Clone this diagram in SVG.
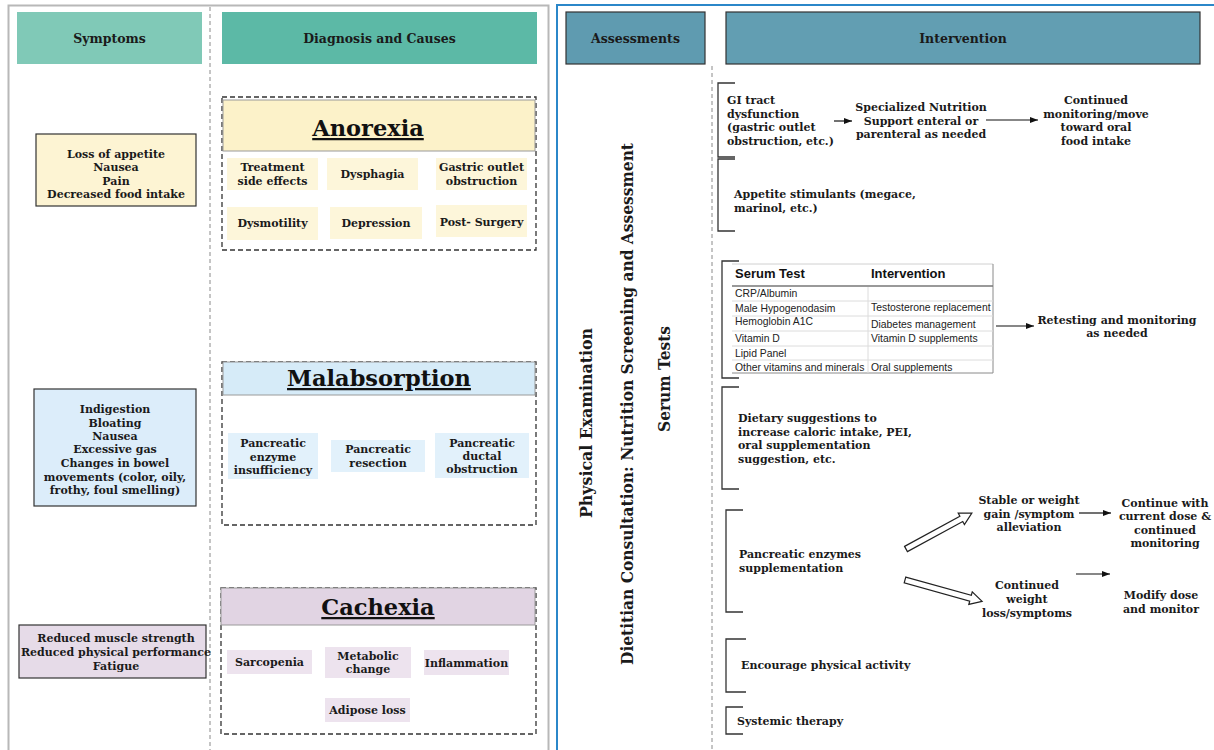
<svg xmlns="http://www.w3.org/2000/svg" width="1214" height="750" viewBox="0 0 1214 750">
<defs>
<marker id="ah" markerUnits="userSpaceOnUse" markerWidth="9" markerHeight="7" refX="8" refY="3.5" orient="auto">
<path d="M0,0.5 L8,3.5 L0,6.5 z" fill="#111"/>
</marker>
<style>
.t{font-family:"DejaVu Serif","Liberation Serif",serif;font-weight:bold;font-size:11px;fill:#1a1a1a}
.c{text-anchor:middle}
.h{font-family:"DejaVu Serif","Liberation Serif",serif;font-weight:bold;font-size:12.5px;fill:#1a1a1a;text-anchor:middle}
.ttl{font-family:"DejaVu Serif","Liberation Serif",serif;font-weight:bold;font-size:22.5px;fill:#111;text-anchor:middle;text-decoration:underline}
.v{font-family:"DejaVu Serif","Liberation Serif",serif;font-weight:bold;font-size:16px;fill:#1a1a1a;text-anchor:middle}
.tb{font-family:"Liberation Sans",Arial,sans-serif;font-size:10.4px;fill:#222}
.tbh{font-family:"Liberation Sans",Arial,sans-serif;font-size:13px;font-weight:bold;fill:#111}
.dash{fill:none;stroke:#333;stroke-width:1.3;stroke-dasharray:5,3}
.sym{stroke:#333;stroke-width:1.2}
.bar{stroke:#9a9a9a;stroke-width:1}
.br{fill:none;stroke:#333;stroke-width:1.3}
.ln{stroke:#111;stroke-width:1.2;fill:none}
.hol{fill:#fff;stroke:#222;stroke-width:1.2}
.div{stroke:#8a8a8a;stroke-width:1;stroke-dasharray:4,3}
.rl{stroke:#dcdcdc;stroke-width:1}
</style>
</defs>

<g id="panels">
<rect x="8.5" y="5.5" width="540" height="770" fill="#fff" stroke="#b8b8b8" stroke-width="2"/>
<rect x="557" y="5" width="690" height="770" fill="#fff" stroke="#2b87c9" stroke-width="2"/>
<line class="div" x1="210" y1="7" x2="210" y2="750"/>
<line class="div" x1="712" y1="66" x2="712" y2="750"/>
</g>

<g id="hdr-symptoms">
<rect x="17" y="12" width="185" height="52" fill="#80c9b7"/>
<text class="h" x="109.5" y="43">Symptoms</text>
</g>
<g id="hdr-diagnosis">
<rect x="222" y="12" width="315" height="52" fill="#5cb9a6"/>
<text class="h" x="379.5" y="43">Diagnosis and Causes</text>
</g>
<g id="hdr-assessments">
<rect x="566" y="12" width="139" height="52" fill="#5f9bb0" stroke="#333" stroke-width="1.2"/>
<text class="h" x="635.5" y="43">Assessments</text>
</g>
<g id="hdr-intervention">
<rect x="726" y="12" width="474" height="52" fill="#629eb2" stroke="#333" stroke-width="1.2"/>
<text class="h" x="963" y="43">Intervention</text>
</g>

<!-- Anorexia -->
<g id="sym-anorexia">
<rect class="sym" x="36" y="134" width="160" height="72" fill="#fdf4d3"/>
<text class="t c" x="116" y="158">Loss of appetite</text>
<text class="t c" x="116" y="171">Nausea</text>
<text class="t c" x="116" y="185">Pain</text>
<text class="t c" x="116" y="198">Decreased food intake</text>
</g>
<g id="anorexia">
<rect class="dash" x="222" y="97" width="314" height="153" fill="#fffef4"/>
<rect class="bar" x="223" y="100" width="312" height="51" fill="#fcf2c9"/>
<text class="ttl" x="368" y="136">Anorexia</text>
<rect x="227" y="158" width="91" height="32" fill="#fdf6da"/>
<text class="t c" x="272.5" y="171">Treatment</text>
<text class="t c" x="272.5" y="185">side effects</text>
<rect x="327" y="158" width="91" height="32" fill="#fdf6da"/>
<text class="t c" x="372.5" y="178">Dysphagia</text>
<rect x="436" y="158" width="91" height="32" fill="#fdf6da"/>
<text class="t c" x="481.5" y="171">Gastric outlet</text>
<text class="t c" x="481.5" y="185">obstruction</text>
<rect x="227" y="207" width="91" height="33" fill="#fdf6da"/>
<text class="t c" x="272.5" y="227">Dysmotility</text>
<rect x="330" y="207" width="92" height="32" fill="#fdf6da"/>
<text class="t c" x="376" y="227">Depression</text>
<rect x="436" y="205" width="91" height="32" fill="#fdf6da"/>
<text class="t c" x="481.5" y="226">Post- Surgery</text>
</g>

<!-- Malabsorption -->
<g id="sym-malabsorption">
<rect class="sym" x="34" y="389" width="162" height="117" fill="#dcedfa"/>
<text class="t c" x="115" y="413">Indigestion</text>
<text class="t c" x="115" y="427">Bloating</text>
<text class="t c" x="115" y="440">Nausea</text>
<text class="t c" x="115" y="453">Excessive gas</text>
<text class="t c" x="115" y="467">Changes in bowel</text>
<text class="t c" x="115" y="481">movements (color, oily,</text>
<text class="t c" x="115" y="494">frothy, foul smelling)</text>
</g>
<g id="malabsorption">
<rect class="dash" x="222" y="362" width="314" height="163" fill="#f1f9fe"/>
<rect class="bar" x="223" y="362" width="312" height="33" fill="#d6ebf8"/>
<text class="ttl" x="379" y="386">Malabsorption</text>
<rect x="228" y="433" width="90" height="46" fill="#e2f1fb"/>
<text class="t c" x="273" y="447">Pancreatic</text>
<text class="t c" x="273" y="461">enzyme</text>
<text class="t c" x="273" y="474">insufficiency</text>
<rect x="331" y="440" width="94" height="32" fill="#e2f1fb"/>
<text class="t c" x="378" y="453">Pancreatic</text>
<text class="t c" x="378" y="467">resection</text>
<rect x="435" y="433" width="94" height="45" fill="#e2f1fb"/>
<text class="t c" x="482" y="447">Pancreatic</text>
<text class="t c" x="482" y="460">ductal</text>
<text class="t c" x="482" y="473">obstruction</text>
</g>

<!-- Cachexia -->
<g id="sym-cachexia">
<rect class="sym" x="19" y="625" width="187" height="53" fill="#e6dbe8"/>
<text class="t c" x="116" y="642">Reduced muscle strength</text>
<text class="t c" x="116" y="656">Reduced physical performance</text>
<text class="t c" x="116" y="670">Fatigue</text>
</g>
<g id="cachexia">
<rect class="dash" x="221" y="588" width="315" height="146" fill="#faf6fa"/>
<rect class="bar" x="221" y="588" width="314" height="37" fill="#e1d4e3"/>
<text class="ttl" x="378" y="615">Cachexia</text>
<rect x="227" y="650" width="85" height="24" fill="#ede3ee"/>
<text class="t c" x="269.5" y="666">Sarcopenia</text>
<rect x="325" y="647" width="86" height="31" fill="#ede3ee"/>
<text class="t c" x="368" y="660">Metabolic</text>
<text class="t c" x="368" y="673">change</text>
<rect x="424" y="650" width="85" height="25" fill="#ede3ee"/>
<text class="t c" x="466.5" y="667">Inflammation</text>
<rect x="325" y="698" width="85" height="24" fill="#ede3ee"/>
<text class="t c" x="367.5" y="714">Adipose loss</text>
</g>

<!-- Assessments (vertical) -->
<g id="assess-physical">
<text class="v" transform="translate(592,423) rotate(-90)" textLength="190" lengthAdjust="spacingAndGlyphs">Physical Examination</text>
</g>
<g id="assess-dietitian">
<text class="v" transform="translate(633,404) rotate(-90)" textLength="522" lengthAdjust="spacingAndGlyphs">Dietitian Consultation: Nutrition Screening and Assessment</text>
</g>
<g id="assess-serum">
<text class="v" transform="translate(670,379) rotate(-90)" textLength="106" lengthAdjust="spacingAndGlyphs">Serum Tests</text>
</g>

<!-- Interventions -->
<g id="int-gi">
<path class="br" d="M735,83 H718 V157 H735"/>
<text class="t" x="727" y="104">GI tract</text>
<text class="t" x="727" y="118">dysfunction</text>
<text class="t" x="727" y="131">(gastric outlet</text>
<text class="t" x="727" y="145">obstruction, etc.)</text>
</g>
<g id="int-sns">
<text class="t c" x="921" y="111">Specialized Nutrition</text>
<text class="t c" x="921" y="125">Support enteral or</text>
<text class="t c" x="921" y="138">parenteral as needed</text>
</g>
<g id="int-continued">
<text class="t c" x="1096" y="104">Continued</text>
<text class="t c" x="1096" y="118">monitoring/move</text>
<text class="t c" x="1096" y="131">toward oral</text>
<text class="t c" x="1096" y="145">food intake</text>
</g>
<g id="int-appetite">
<path class="br" d="M735,159 H718 V231 H735"/>
<text class="t" x="734" y="198">Appetite stimulants (megace,</text>
<text class="t" x="734" y="212">marinol, etc.)</text>
</g>
<g id="int-serum">
<path class="br" d="M739,261 H722 V378 H739"/>
<rect x="732" y="264" width="261" height="109" fill="#fff"/>
<line x1="732" y1="264" x2="993" y2="264" stroke="#d0d0d0"/>
<line x1="993" y1="264" x2="993" y2="373" stroke="#8a8a8a"/>
<line x1="732" y1="373" x2="993" y2="373" stroke="#8a8a8a"/>
<line x1="732" y1="286" x2="993" y2="286" stroke="#777" stroke-width="1.6"/>
<line class="rl" x1="732" y1="301" x2="993" y2="301"/>
<line class="rl" x1="732" y1="316" x2="993" y2="316"/>
<line class="rl" x1="732" y1="331" x2="993" y2="331"/>
<line class="rl" x1="732" y1="346" x2="993" y2="346"/>
<line class="rl" x1="732" y1="360" x2="993" y2="360"/>
<line class="rl" x1="868" y1="287" x2="868" y2="373"/>
<text class="tbh" x="735" y="278">Serum Test</text>
<text class="tbh" x="871" y="278">Intervention</text>
<text class="tb" x="735" y="297">CRP/Albumin</text>
<text class="tb" x="735" y="312">Male Hypogenodasim</text>
<text class="tb" x="735" y="325">Hemoglobin A1C</text>
<text class="tb" x="735" y="342">Vitamin D</text>
<text class="tb" x="735" y="357">Lipid Panel</text>
<text class="tb" x="735" y="371">Other vitamins and minerals</text>
<text class="tb" x="871" y="311">Testosterone replacement</text>
<text class="tb" x="871" y="328">Diabetes management</text>
<text class="tb" x="871" y="342">Vitamin D supplements</text>
<text class="tb" x="871" y="371">Oral supplements</text>
</g>
<g id="int-retesting">
<text class="t c" x="1117" y="324">Retesting and monitoring</text>
<text class="t c" x="1117" y="337">as needed</text>
</g>
<g id="int-dietary">
<path class="br" d="M739,387 H722 V489 H739"/>
<text class="t" x="738" y="422">Dietary suggestions to</text>
<text class="t" x="738" y="436">increase caloric intake, PEI,</text>
<text class="t" x="738" y="449">oral supplementation</text>
<text class="t" x="738" y="463">suggestion, etc.</text>
</g>
<g id="int-enzymes">
<path class="br" d="M743,510 H726 V612 H743"/>
<text class="t" x="739" y="558">Pancreatic enzymes</text>
<text class="t" x="739" y="572">supplementation</text>
</g>
<g id="int-stable">
<text class="t c" x="1029" y="504">Stable or weight</text>
<text class="t c" x="1029" y="518">gain /symptom</text>
<text class="t c" x="1029" y="531">alleviation</text>
</g>
<g id="int-continue-dose">
<text class="t c" x="1165" y="507">Continue with</text>
<text class="t c" x="1165" y="520">current dose &amp;</text>
<text class="t c" x="1165" y="534">continued</text>
<text class="t c" x="1165" y="547">monitoring</text>
</g>
<g id="int-loss">
<text class="t c" x="1027" y="589">Continued</text>
<text class="t c" x="1027" y="603">weight</text>
<text class="t c" x="1027" y="617">loss/symptoms</text>
</g>
<g id="int-modify">
<text class="t c" x="1161" y="599">Modify dose</text>
<text class="t c" x="1161" y="613">and monitor</text>
</g>
<g id="int-physical">
<path class="br" d="M746,639 H726 V692 H746"/>
<text class="t" x="741" y="669">Encourage physical activity</text>
</g>
<g id="int-systemic">
<path class="br" d="M743,707 H726 V734 H743"/>
<text class="t" x="737" y="725">Systemic therapy</text>
</g>

<g id="connectors">
<line class="ln" x1="834" y1="121" x2="852" y2="121" marker-end="url(#ah)"/>
<line class="ln" x1="986" y1="120" x2="1038" y2="120" marker-end="url(#ah)"/>
<line class="ln" x1="996" y1="326" x2="1034" y2="326" marker-end="url(#ah)"/>
<line class="ln" x1="1079" y1="513" x2="1111" y2="513" marker-end="url(#ah)"/>
<line class="ln" x1="1076" y1="574" x2="1110" y2="574" marker-end="url(#ah)"/>
<polygon class="hol" transform="translate(906,549) rotate(-28.6)" points="0,-3 63,-3 63,-6.5 75,0 63,6.5 63,3 0,3"/>
<polygon class="hol" transform="translate(905,580) rotate(15.5)" points="0,-3 68,-3 68,-6.5 80,0 68,6.5 68,3 0,3"/>
</g>
</svg>
